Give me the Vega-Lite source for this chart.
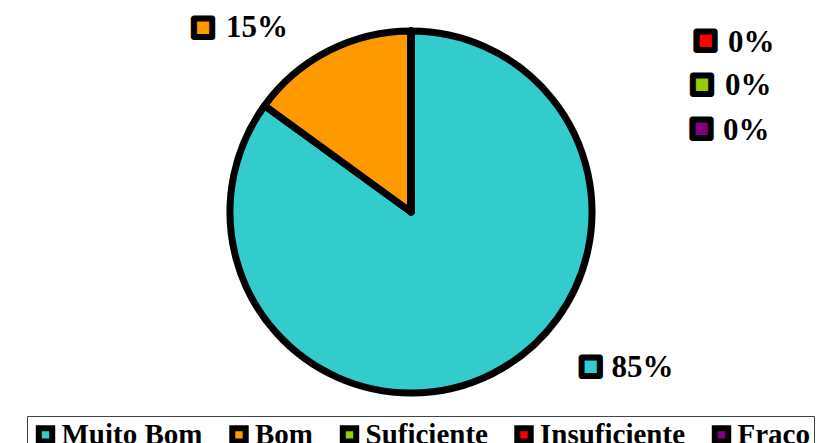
{
  "$schema": "https://vega.github.io/schema/vega-lite/v6.json",
  "width": 822,
  "height": 424,
  "padding": 0,
  "autosize": {"type": "pad"},
  "background": "white",
  "config": {"view": {"stroke": null}},
  "data": {
    "values": [
      {"categoria": "Muito Bom", "valor": 0.85, "ordem": 1},
      {"categoria": "Bom", "valor": 0.15, "ordem": 2},
      {"categoria": "Suficiente", "valor": 0, "ordem": 3},
      {"categoria": "Insuficiente", "valor": 0, "ordem": 4},
      {"categoria": "Fraco", "valor": 0, "ordem": 5}
    ]
  },
  "encoding": {
    "theta": {"field": "valor", "type": "quantitative", "stack": true},
    "order": {"field": "ordem", "type": "quantitative"}
  },
  "layer": [
    {
      "mark": {"type": "arc", "outerRadius": 181, "stroke": "black", "strokeWidth": 7, "strokeJoin": "round"},
      "encoding": {
        "color": {
          "field": "categoria",
          "type": "nominal",
          "scale": {
            "domain": ["Muito Bom", "Bom", "Suficiente", "Insuficiente", "Fraco"],
            "range": ["#33CCCC", "#FF9900", "#99CC00", "#FF0000", "#800080"]
          },
          "legend": {
            "title": null,
            "orient": "none",
            "legendX": 27,
            "legendY": 416,
            "direction": "horizontal",
            "columns": 5,
            "columnPadding": 16.5,
            "padding": 4,
            "strokeColor": "#444444",
            "symbolType": "square",
            "symbolSize": 180,
            "symbolStrokeColor": "black",
            "symbolStrokeWidth": 6,
            "symbolOpacity": 1,
            "labelFont": "Liberation Serif",
            "labelFontWeight": "bold",
            "labelFontSize": 29,
            "labelColor": "black",
            "labelOffset": 1.5,
            "labelLimit": 400
          }
        }
      }
    },
    {
      "mark": {"type": "text", "radius": 172.8, "dx": 101.5, "font": "DejaVu Sans", "fontSize": 24, "align": "center", "baseline": "middle", "stroke": "black", "strokeWidth": 6, "strokeJoin": "round"},
      "encoding": {
        "text": {"condition": {"test": "datum.categoria === 'Muito Bom'", "value": "■"}, "value": ""},
        "color": {"field": "categoria", "type": "nominal", "legend": null}
      }
    },
    {
      "mark": {"type": "text", "radius": 172.8, "dx": 122, "dy": 2, "font": "Liberation Serif", "fontWeight": "bold", "fontSize": 31, "align": "left", "baseline": "middle", "color": "black"},
      "encoding": {
        "text": {"condition": {"test": "datum.categoria === 'Muito Bom'", "field": "valor", "format": ".0%"}, "value": ""}
      }
    },
    {
      "mark": {"type": "text", "radius": 100, "dx": -162.6, "dy": -96.2, "font": "DejaVu Sans", "fontSize": 24, "align": "center", "baseline": "middle", "stroke": "black", "strokeWidth": 6, "strokeJoin": "round"},
      "encoding": {
        "text": {"condition": {"test": "datum.categoria === 'Bom'", "value": "■"}, "value": ""},
        "color": {"field": "categoria", "type": "nominal", "legend": null}
      }
    },
    {
      "mark": {"type": "text", "radius": 100, "dx": -139.6, "dy": -94.9, "font": "Liberation Serif", "fontWeight": "bold", "fontSize": 31, "align": "left", "baseline": "middle", "color": "black"},
      "encoding": {
        "text": {"condition": {"test": "datum.categoria === 'Bom'", "field": "valor", "format": ".0%"}, "value": ""}
      }
    },
    {
      "mark": {"type": "text", "radius": 172, "dx": 294.5, "font": "DejaVu Sans", "fontSize": 24, "align": "center", "baseline": "middle", "stroke": "black", "strokeWidth": 6, "strokeJoin": "round"},
      "encoding": {
        "text": {"condition": {"test": "datum.categoria === 'Insuficiente'", "value": "■"}, "value": ""},
        "color": {"field": "categoria", "type": "nominal", "legend": null}
      }
    },
    {
      "mark": {"type": "text", "radius": 172, "dx": 317, "dy": 2.5, "font": "Liberation Serif", "fontWeight": "bold", "fontSize": 31, "align": "left", "baseline": "middle", "color": "black"},
      "encoding": {
        "text": {"condition": {"test": "datum.categoria === 'Insuficiente'", "field": "valor", "format": ".0%"}, "value": ""}
      }
    },
    {
      "mark": {"type": "text", "radius": 128.5, "dx": 291, "font": "DejaVu Sans", "fontSize": 24, "align": "center", "baseline": "middle", "stroke": "black", "strokeWidth": 6, "strokeJoin": "round"},
      "encoding": {
        "text": {"condition": {"test": "datum.categoria === 'Suficiente'", "value": "■"}, "value": ""},
        "color": {"field": "categoria", "type": "nominal", "legend": null}
      }
    },
    {
      "mark": {"type": "text", "radius": 128.5, "dx": 314, "dy": 2, "font": "Liberation Serif", "fontWeight": "bold", "fontSize": 31, "align": "left", "baseline": "middle", "color": "black"},
      "encoding": {
        "text": {"condition": {"test": "datum.categoria === 'Suficiente'", "field": "valor", "format": ".0%"}, "value": ""}
      }
    },
    {
      "mark": {"type": "text", "radius": 84.5, "dx": 290.7, "font": "DejaVu Sans", "fontSize": 24, "align": "center", "baseline": "middle", "stroke": "black", "strokeWidth": 6, "strokeJoin": "round"},
      "encoding": {
        "text": {"condition": {"test": "datum.categoria === 'Fraco'", "value": "■"}, "value": ""},
        "color": {"field": "categoria", "type": "nominal", "legend": null}
      }
    },
    {
      "mark": {"type": "text", "radius": 84.5, "dx": 312, "dy": 3.5, "font": "Liberation Serif", "fontWeight": "bold", "fontSize": 31, "align": "left", "baseline": "middle", "color": "black"},
      "encoding": {
        "text": {"condition": {"test": "datum.categoria === 'Fraco'", "field": "valor", "format": ".0%"}, "value": ""}
      }
    }
  ]
}
